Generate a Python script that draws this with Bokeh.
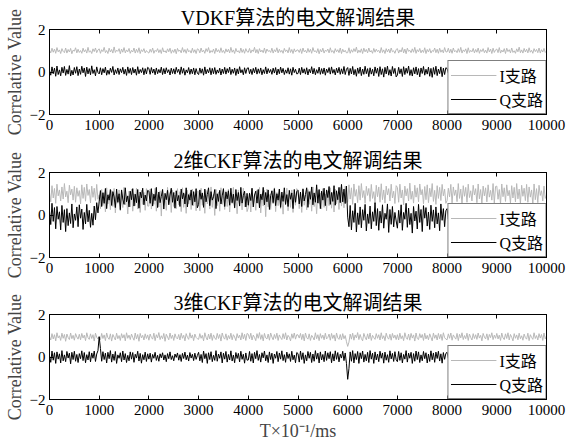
from bokeh.plotting import figure
from bokeh.layouts import column
from bokeh.models import Range1d, LinearAxis, FixedTicker, Legend, LegendItem
from bokeh.embed import file_html
from bokeh.resources import INLINE

STEP = 25  # sample spacing of the read-off values (x in units of 10^-1 ms)

x_ticks = [0, 1000, 2000, 3000, 4000, 5000, 6000, 7000, 8000, 9000, 10000]
y_ticks = [-2, 0, 2]
titles = ["VDKF算法的电文解调结果", "2维CKF算法的电文解调结果", "3维CKF算法的电文解调结果"]
legend_labels = ["I支路", "Q支路"]
y_label = "Correlative Value"
x_label = "T×10⁻¹/ms"

vdkf_i = [
    1.02, 0.90, 1.12, 0.93, 1.08, 0.88, 1.15, 0.95, 1.04, 0.87, 1.10, 0.97, 0.91, 1.13, 0.89, 1.06, 0.94, 1.11, 0.86, 1.03, 0.98, 1.14, 0.90, 1.07, 0.92, 1.01, 0.88, 1.12, 0.95, 1.05, 0.89, 1.16, 0.93, 1.00, 0.87, 1.09, 0.96, 1.13, 0.91, 1.04,
    1.09, 0.88, 1.05, 0.96, 1.16, 0.91, 1.01, 0.87, 1.12, 0.94, 1.06, 0.89, 1.18, 0.92, 1.03, 0.97, 1.10, 0.86, 1.08, 0.93, 1.15, 0.90, 1.04, 0.95, 1.11, 0.88, 1.02, 0.94, 1.13, 0.89, 1.07, 0.92, 1.14, 0.87, 1.05, 0.96, 1.10, 0.90, 1.01, 0.93,
    0.89, 1.07, 0.93, 1.13, 0.88, 1.02, 0.96, 1.10, 0.91, 1.05, 0.87, 1.14, 0.94, 1.00, 0.90, 1.09, 0.95, 1.12, 0.88, 1.04, 0.92, 1.08, 0.86, 1.11, 0.97, 1.03, 0.90, 1.15, 0.93, 1.06, 0.88, 1.10, 0.95, 1.01, 0.89, 1.12, 0.92, 1.05, 0.87, 1.09,
    1.06, 0.90, 1.13, 0.94, 1.03, 0.88, 1.10, 0.96, 1.15, 0.89, 1.01, 0.93, 1.08, 0.87, 1.12, 0.95, 1.05, 0.91, 1.14, 0.92, 1.02, 0.88, 1.09, 0.94, 1.07, 0.90, 1.16, 0.93, 1.04, 0.87, 1.11, 0.95, 1.00, 0.89, 1.13, 0.92, 1.06, 0.88, 1.10, 0.96,
    0.93, 1.11, 0.89, 1.04, 0.96, 1.16, 0.90, 1.06, 0.87, 1.10, 0.94, 1.03, 0.91, 1.13, 0.88, 1.08, 0.97, 1.01, 0.92, 1.12, 0.89, 1.05, 0.95, 1.14, 0.90, 1.07, 0.93, 1.02, 0.88, 1.11, 0.96, 1.04, 0.90, 1.15, 0.92, 1.06, 0.87, 1.09, 0.94, 1.03,
    1.04, 0.92, 1.09, 0.87, 1.13, 0.95, 1.02, 0.90, 1.11, 0.93, 1.07, 0.88, 1.15, 0.96, 1.00, 0.91, 1.10, 0.86, 1.06, 0.94, 1.12, 0.89, 1.03, 0.97, 1.08, 0.90, 1.14, 0.93, 1.01, 0.88, 1.10, 0.95, 1.05, 0.91, 1.13, 0.87, 1.07, 0.94, 1.02, 0.90,
    0.91, 1.14, 0.88, 1.05, 0.93, 1.10, 0.96, 1.17, 0.89, 1.03, 0.92, 1.09, 0.87, 1.12, 0.95, 1.06, 0.90, 1.13, 0.94, 1.01, 0.88, 1.11, 0.93, 1.07, 0.96, 1.02, 0.89, 1.15, 0.92, 1.04, 0.87, 1.10, 0.94, 1.08, 0.90, 1.13, 0.95, 1.00, 0.88, 1.06,
    1.10, 0.89, 1.04, 0.94, 1.15, 0.90, 1.08, 0.86, 1.12, 0.97, 1.02, 0.91, 1.09, 0.93, 1.16, 0.88, 1.05, 0.95, 1.11, 0.90, 1.03, 0.92, 1.14, 0.87, 1.06, 0.94, 1.10, 0.89, 1.01, 0.96, 1.13, 0.91, 1.07, 0.88, 1.12, 0.93, 1.04, 0.90, 1.15, 0.95,
    0.94, 1.12, 0.90, 1.07, 0.88, 1.13, 0.95, 1.01, 0.91, 1.10, 0.93, 1.16, 0.89, 1.04, 0.96, 1.09, 0.87, 1.14, 0.92, 1.02, 0.95, 1.11, 0.90, 1.06, 0.93, 1.13, 0.88, 1.05, 0.96, 1.10, 0.91, 1.03, 0.89, 1.15, 0.94, 1.08, 0.87, 1.12, 0.92, 1.04,
    1.08, 0.91, 1.15, 0.89, 1.03, 0.94, 1.10, 0.87, 1.12, 0.96, 1.05, 0.90, 1.13, 0.92, 1.00, 0.88, 1.09, 0.95, 1.17, 0.91, 1.04, 0.89, 1.11, 0.94, 1.07, 0.90, 1.14, 0.93, 1.02, 0.88, 1.10, 0.96, 1.06, 0.91, 1.13, 0.89, 1.05, 0.94, 1.11, 0.92,
    0.98,
]

vdkf_q = [
    0.05, -0.15, 0.24, -0.08, 0.18, -0.20, 0.28, -0.12, 0.10, -0.18, 0.22, -0.05, 0.26, -0.16, 0.12, -0.10, 0.30, -0.19, 0.08, -0.14, 0.21, -0.06, 0.25, -0.17, 0.14, -0.11, 0.27, -0.04, 0.19, -0.21, 0.23, -0.09, 0.16, -0.13, 0.29, -0.07, 0.11, -0.18, 0.24, -0.02,
    -0.09, 0.20, -0.13, 0.16, -0.04, 0.23, -0.15, 0.09, -0.11, 0.18, -0.02, 0.26, -0.14, 0.11, -0.07, 0.19, -0.12, 0.15, -0.03, 0.22, -0.10, 0.13, -0.16, 0.24, -0.06, 0.17, -0.12, 0.21, -0.05, 0.14, -0.15, 0.25, -0.08, 0.12, -0.03, 0.20, -0.13, 0.16, -0.09, 0.22,
    0.17, -0.11, 0.21, -0.05, 0.14, -0.13, 0.19, -0.08, 0.12, -0.04, 0.23, -0.12, 0.16, -0.09, 0.20, -0.03, 0.11, -0.14, 0.18, -0.07, 0.15, -0.10, 0.22, -0.02, 0.13, -0.12, 0.24, -0.06, 0.17, -0.15, 0.10, -0.04, 0.21, -0.11, 0.14, -0.08, 0.19, -0.13, 0.16, -0.05,
    -0.12, 0.19, -0.06, 0.15, -0.15, 0.24, -0.09, 0.12, -0.04, 0.20, -0.13, 0.17, -0.08, 0.21, -0.11, 0.10, -0.05, 0.18, -0.14, 0.14, -0.07, 0.22, -0.10, 0.16, -0.03, 0.23, -0.12, 0.13, -0.06, 0.19, -0.16, 0.15, -0.09, 0.25, -0.04, 0.11, -0.13, 0.20, -0.07, 0.17,
    0.20, -0.08, 0.13, -0.12, 0.17, -0.04, 0.22, -0.10, 0.15, -0.06, 0.19, -0.13, 0.11, -0.07, 0.24, -0.09, 0.16, -0.03, 0.12, -0.11, 0.18, -0.05, 0.21, -0.14, 0.14, -0.08, 0.23, -0.04, 0.17, -0.12, 0.10, -0.06, 0.20, -0.10, 0.15, -0.15, 0.22, -0.03, 0.13, -0.09,
    -0.07, 0.18, -0.12, 0.22, -0.05, 0.15, -0.10, 0.20, -0.14, 0.13, -0.04, 0.25, -0.09, 0.17, -0.13, 0.11, -0.06, 0.23, -0.11, 0.16, -0.08, 0.19, -0.15, 0.14, -0.03, 0.21, -0.10, 0.24, -0.06, 0.12, -0.14, 0.18, -0.04, 0.22, -0.11, 0.15, -0.08, 0.26, -0.12, 0.13,
    0.21, -0.16, 0.17, -0.09, 0.26, -0.13, 0.12, -0.20, 0.19, -0.07, 0.23, -0.17, 0.14, -0.11, 0.27, -0.08, 0.16, -0.22, 0.20, -0.10, 0.13, -0.18, 0.24, -0.06, 0.18, -0.21, 0.25, -0.12, 0.15, -0.24, 0.22, -0.09, 0.28, -0.15, 0.11, -0.19, 0.26, -0.07, 0.17, -0.23,
    -0.14, 0.22, -0.08, 0.15, -0.21, 0.25, -0.12, 0.18, -0.06, 0.28, -0.16, 0.11, -0.19, 0.20, -0.09, 0.24, -0.13, 0.16, -0.23, 0.19, -0.07, 0.26, -0.15, 0.13, -0.10, 0.23, -0.20, 0.17, -0.25, 0.21, -0.11, 0.27, -0.17, 0.14, -0.08, 0.24, -0.22, 0.18, -0.12, 0.20,
    0.16, -0.05, 0.21, 0.02, 0.12, -0.08, 0.24, 0.00, 0.18, -0.04, 0.14, -0.10, 0.22, 0.03, 0.17, -0.06, 0.25, -0.02, 0.13, -0.09, 0.20, 0.01, 0.15, -0.07, 0.23, -0.03, 0.19, 0.04, 0.26, -0.05, 0.14, -0.01, 0.21, -0.08, 0.17, 0.02, 0.24, -0.04, 0.12, -0.06,
    -0.03, 0.18, -0.08, 0.22, 0.00, 0.14, -0.05, 0.26, -0.10, 0.16, 0.02, 0.20, -0.06, 0.24, -0.02, 0.12, -0.09, 0.19, 0.03, 0.17, -0.04, 0.23, -0.07, 0.15, 0.01, 0.21, -0.05, 0.25, -0.01, 0.13, -0.08, 0.20, 0.02, 0.18, -0.06, 0.24, -0.03, 0.16, 0.00, 0.22,
    0.10,
]

ckf2_i = [
    1.05, 0.62, 1.38, 0.80, 1.25, 0.55, 1.45, 0.90, 1.18, 0.66, 1.32, 0.75, 1.48, 0.85, 1.12, 0.58, 1.40, 0.95, 1.22, 0.70, 1.35, 0.60, 1.28, 0.88, 1.15, 0.52, 1.42, 0.78, 1.30, 0.65, 1.46, 0.92, 1.20, 0.57, 1.36, 0.83, 1.26, 0.68, 1.44, 0.74,
    0.95, 0.30, 1.20, 0.45, 1.05, 0.15, 1.28, 0.52, 0.98, 0.25, 1.15, 0.40, 1.25, 0.10, 0.92, 0.55, 1.18, 0.20, 1.08, 0.35, 1.30, 0.48, 0.85, 0.05, 1.12, 0.38, 1.22, 0.18, 1.00, 0.44, 1.26, 0.28, 0.90, 0.12, 1.16, 0.50, 1.06, 0.22, 1.24, 0.42,
    0.42, 1.22, 0.28, 1.02, 0.50, 1.26, 0.18, 0.96, 0.38, 1.14, -0.05, 1.20, 0.45, 0.88, 0.22, 1.30, 0.55, 1.06, 0.12, 1.18, 0.40, 0.94, 0.30, 1.24, 0.48, 1.10, 0.16, 1.28, 0.36, 0.98, 0.08, 1.16, 0.52, 1.04, 0.26, 1.22, 0.44, 0.92, 0.20, 1.12,
    1.10, 0.20, 1.26, 0.46, 0.90, 0.08, 1.16, 0.52, 1.02, 0.28, 1.32, 0.36, 0.98, -0.02, 1.20, 0.44, 1.08, 0.18, 1.28, 0.50, 0.86, 0.26, 1.14, 0.40, 1.22, 0.14, 1.04, 0.54, 1.30, 0.32, 0.94, 0.06, 1.18, 0.48, 1.00, 0.24, 1.26, 0.38, 0.88, 0.16,
    0.34, 1.04, 0.14, 1.24, 0.48, 0.92, 0.22, 1.18, 0.55, 1.30, 0.10, 1.00, 0.42, 1.16, -0.08, 1.22, 0.38, 0.96, 0.26, 1.12, 0.52, 1.28, 0.16, 1.06, 0.44, 1.20, 0.30, 0.90, 0.04, 1.14, 0.50, 1.26, 0.20, 1.02, 0.36, 1.18, 0.12, 0.94, 0.46, 1.24,
    1.18, 0.30, 1.02, 0.12, 1.26, 0.46, 0.94, 0.24, 1.20, 0.50, 1.10, 0.18, 1.32, 0.40, 0.88, 0.06, 1.16, 0.54, 1.04, 0.28, 1.24, 0.36, 0.98, 0.20, 1.14, 0.44, 1.28, 0.32, 1.06, 0.14, 1.22, 0.52, 0.96, 0.26, 1.30, 0.42, 1.08, 0.34, 1.36, 0.58,
    0.62, 1.42, 0.75, 1.28, 0.50, 1.46, 0.88, 1.20, 0.58, 1.38, 0.70, 1.48, 0.82, 1.15, 0.55, 1.35, 0.92, 1.25, 0.64, 1.44, 0.78, 1.10, 0.52, 1.40, 0.86, 1.32, 0.60, 1.47, 0.72, 1.18, 0.56, 1.36, 0.94, 1.24, 0.66, 1.45, 0.80, 1.12, 0.54, 1.38,
    1.30, 0.60, 1.45, 0.80, 1.18, 0.48, 1.36, 0.90, 1.24, 0.66, 1.50, 0.74, 1.12, 0.56, 1.40, 0.84, 1.28, 0.62, 1.46, 0.95, 1.20, 0.53, 1.34, 0.72, 1.42, 0.58, 1.26, 0.86, 1.48, 0.64, 1.16, 0.50, 1.38, 0.78, 1.30, 0.68, 1.44, 0.90, 1.22, 0.55,
    0.68, 1.26, 0.85, 1.44, 0.57, 1.32, 0.92, 1.18, 0.63, 1.48, 0.78, 1.22, 0.50, 1.38, 0.88, 1.30, 0.60, 1.45, 0.82, 1.14, 0.66, 1.40, 0.94, 1.24, 0.58, 1.46, 0.76, 1.20, 0.54, 1.36, 0.90, 1.28, 0.62, 1.42, 0.84, 1.16, 0.70, 1.48, 0.56, 1.34,
    1.36, 0.74, 1.20, 0.52, 1.46, 0.86, 1.28, 0.64, 1.42, 0.90, 1.16, 0.56, 1.38, 0.80, 1.30, 0.62, 1.48, 0.76, 1.22, 0.54, 1.40, 0.88, 1.26, 0.68, 1.44, 0.60, 1.32, 0.84, 1.18, 0.50, 1.46, 0.72, 1.24, 0.58, 1.40, 0.92, 1.14, 0.66, 1.36, 0.78,
    0.95,
]

ckf2_q = [
    0.20, -0.45, 0.55, -0.30, 0.35, -0.65, 0.40, -0.20, 0.15, -0.70, 0.45, -0.35, 0.25, -0.78, 0.30, -0.50, 0.10, -0.40, 0.52, -0.60, 0.05, -0.25, 0.38, -0.55, 0.48, -0.15, 0.28, -0.68, 0.12, -0.42, 0.50, -0.32, 0.22, -0.58, 0.08, -0.48, 0.42, -0.22, 0.58, 0.10,
    0.65, 1.15, 0.40, 1.05, 0.55, 1.25, 0.30, 0.95, 0.70, 1.20, 0.45, 1.10, 0.85, 0.35, 1.22, 0.60, 1.00, 0.25, 1.18, 0.75, 0.50, 1.28, 0.62, 0.90, 0.38, 1.12, 0.72, 1.24, 0.42, 0.98, 0.58, 1.20, 0.32, 1.08, 0.80, 1.26, 0.48, 0.94, 0.66, 1.16,
    1.12, 0.55, 1.24, 0.42, 0.98, 0.68, 1.30, 0.35, 1.08, 0.58, 0.88, 1.20, 0.28, 1.02, 0.72, 1.16, 0.48, 0.94, 1.26, 0.60, 1.06, 0.32, 1.14, 0.66, 0.92, 0.40, 1.22, 0.76, 1.04, 0.52, 1.28, 0.38, 0.96, 0.70, 1.18, 0.46, 1.10, 0.62, 1.24, 0.34,
    0.50, 1.18, 0.74, 1.04, 0.36, 1.22, 0.62, 0.96, 1.28, 0.44, 1.10, 0.70, 0.86, 1.20, 0.30, 1.00, 0.64, 1.16, 0.52, 0.90, 1.24, 0.40, 1.08, 0.76, 1.14, 0.46, 1.26, 0.58, 0.98, 0.34, 1.20, 0.68, 1.06, 0.42, 1.30, 0.56, 0.92, 1.12, 0.38, 1.02,
    0.46, 1.02, 0.68, 1.26, 0.38, 0.94, 1.12, 0.56, 1.20, 0.34, 0.98, 0.72, 1.30, 0.48, 1.06, 0.62, 1.18, 0.26, 0.92, 1.14, 0.58, 1.24, 0.44, 1.00, 0.70, 1.22, 0.36, 1.08, 0.64, 1.28, 0.50, 0.96, 0.40, 1.16, 0.74, 1.04, 0.30, 1.20, 0.60, 1.10,
    1.16, 0.52, 1.08, 0.40, 1.22, 0.66, 0.96, 1.28, 0.36, 1.10, 0.74, 1.32, 0.48, 1.04, 0.60, 1.42, 0.56, 1.20, 0.30, 1.12, 0.70, 1.26, 0.44, 1.18, 0.82, 1.34, 0.50, 1.06, 0.64, 1.38, 0.46, 1.14, 0.72, 1.30, 0.58, 1.44, 0.62, 1.22, 0.54, 1.36,
    -0.10, -0.55, 0.45, -0.70, 0.20, -0.35, 0.55, -0.80, 0.10, -0.45, 0.38, -0.60, 0.25, -0.25, 0.50, -0.75, 0.05, -0.40, 0.42, -0.65, 0.15, -0.30, 0.58, -0.50, 0.30, -0.72, 0.18, -0.38, 0.48, -0.62, 0.08, -0.20, 0.52, -0.82, 0.26, -0.44, 0.40, -0.56, 0.12, -0.28,
    -0.62, 0.22, -0.38, 0.48, -0.72, 0.12, -0.20, 0.55, -0.58, 0.32, -0.45, 0.08, -0.85, 0.40, -0.28, 0.18, -0.66, 0.50, -0.35, 0.26, -0.78, 0.44, -0.15, 0.35, -0.52, 0.14, -0.68, 0.46, -0.30, 0.24, -0.60, 0.38, -0.42, 0.10, -0.74, 0.52, -0.25, 0.30, -0.55, 0.20,
    0.30, -0.20, 0.45, -0.10, 0.25, -0.30, 0.50, 0.00, 0.35, -0.25, 0.42, -0.05, 0.20, -0.15, 0.48, -0.22, 0.32, 0.02, 0.40, -0.28, 0.26, -0.08, 0.52, -0.18, 0.36, -0.12, 0.44, -0.24, 0.28, 0.04, 0.46, -0.16, 0.34, -0.06, 0.50, -0.26, 0.22, -0.02, 0.40, -0.20,
    -0.12, 0.44, -0.24, 0.28, 0.04, 0.50, -0.16, 0.34, -0.06, 0.46, -0.26, 0.22, -0.02, 0.40, -0.20, 0.54, -0.10, 0.30, 0.06, 0.44, -0.14, 0.38, -0.04, 0.48, -0.18, 0.32, 0.02, 0.42, -0.22, 0.26, -0.08, 0.50, -0.12, 0.36, 0.00, 0.46, -0.16, 0.28, -0.06, 0.40,
    0.25,
]

ckf3_i = [
    0.95, 0.80, 1.10, 0.85, 1.05, 0.76, 1.14, 0.90, 1.00, 0.78, 1.12, 0.88, 1.06, 0.74, 1.08, 0.92, 0.82, 1.13, 0.86, 1.02, 0.79, 1.10, 0.94, 0.84, 1.07, 0.81, 1.11, 0.89, 1.03, 0.77, 1.14, 0.91, 0.83, 1.09, 0.87, 1.05, 0.75, 1.12, 0.93, 0.85,
    0.98, 0.81, 1.11, 0.87, 1.04, 0.77, 1.13, 0.91, 0.83, 1.09, 0.75, 1.06, 0.93, 0.80, 1.12, 0.86, 1.01, 0.78, 1.10, 0.89, 1.05, 0.76, 1.14, 0.88, 1.03, 0.82, 1.08, 0.92, 0.79, 1.13, 0.85, 1.06, 0.74, 1.11, 0.90, 1.02, 0.80, 1.09, 0.87, 1.04,
    0.79, 1.08, 0.92, 0.84, 1.12, 0.77, 1.05, 0.90, 1.15, 0.82, 1.00, 0.86, 1.11, 0.74, 1.07, 0.94, 0.81, 1.13, 0.87, 1.03, 0.78, 1.09, 0.91, 0.85, 1.06, 0.80, 1.12, 0.88, 1.02, 0.76, 1.10, 0.93, 0.83, 1.14, 0.89, 1.04, 0.77, 1.08, 0.92, 0.86,
    0.83, 1.10, 0.88, 1.02, 0.76, 1.14, 0.93, 0.80, 1.08, 0.85, 1.12, 0.78, 1.04, 0.90, 0.82, 1.11, 0.87, 1.06, 0.75, 1.13, 0.92, 0.84, 1.09, 0.79, 1.01, 0.86, 1.12, 0.81, 1.05, 0.94, 0.77, 1.10, 0.89, 1.03, 0.80, 1.14, 0.85, 1.07, 0.78, 1.11,
    1.07, 0.86, 1.12, 0.80, 1.03, 0.92, 0.77, 1.10, 0.88, 1.15, 0.83, 1.05, 0.76, 1.11, 0.90, 0.85, 1.08, 0.79, 1.13, 0.94, 0.81, 1.06, 0.87, 1.12, 0.78, 1.04, 0.91, 0.82, 1.10, 0.86, 1.14, 0.80, 1.02, 0.93, 0.76, 1.09, 0.88, 1.13, 0.84, 1.05,
    1.04, 0.89, 1.11, 0.82, 1.07, 0.76, 1.13, 0.91, 0.84, 1.09, 0.78, 1.02, 0.93, 0.80, 1.14, 0.86, 1.05, 0.77, 1.10, 0.88, 1.03, 0.81, 1.12, 0.85, 0.92, 1.08, 0.79, 1.11, 0.87, 1.04, 0.75, 1.13, 0.90, 0.83, 1.06, 0.80, 1.10, 0.86, 1.01, 0.72,
    0.50, 0.70, 1.08, 0.84, 1.12, 0.79, 1.04, 0.90, 1.15, 0.82, 1.06, 0.87, 0.76, 1.11, 0.93, 0.81, 1.09, 0.85, 1.13, 0.78, 1.02, 0.91, 0.83, 1.10, 0.88, 1.05, 0.80, 1.14, 0.86, 1.00, 0.77, 1.12, 0.92, 0.84, 1.07, 0.79, 1.11, 0.89, 1.03, 0.82,
    1.05, 0.80, 1.12, 0.86, 1.00, 0.77, 1.14, 0.92, 0.83, 1.08, 0.79, 1.11, 0.89, 1.04, 0.75, 1.13, 0.87, 0.82, 1.10, 0.90, 1.06, 0.78, 1.12, 0.85, 1.02, 0.81, 1.09, 0.93, 0.76, 1.13, 0.88, 1.04, 0.80, 1.11, 0.86, 1.07, 0.78, 1.14, 0.91, 0.84,
    0.81, 1.09, 0.88, 1.13, 0.79, 1.04, 0.93, 0.84, 1.11, 0.77, 1.07, 0.90, 1.14, 0.82, 1.01, 0.86, 1.12, 0.78, 1.08, 0.92, 0.80, 1.10, 0.87, 1.05, 0.83, 1.13, 0.89, 1.02, 0.76, 1.11, 0.94, 0.85, 1.09, 0.79, 1.06, 0.91, 1.14, 0.82, 1.03, 0.88,
    1.11, 0.85, 1.03, 0.78, 1.13, 0.90, 0.82, 1.09, 0.87, 1.14, 0.80, 1.06, 0.93, 0.76, 1.10, 0.88, 1.04, 0.81, 1.12, 0.86, 1.00, 0.79, 1.08, 0.91, 0.84, 1.12, 0.77, 1.05, 0.92, 0.83, 1.14, 0.87, 1.01, 0.80, 1.10, 0.89, 1.06, 0.78, 1.13, 0.85,
    1.00,
]

ckf3_q = [
    0.05, -0.25, 0.28, -0.15, 0.20, -0.30, 0.24, -0.10, 0.15, -0.28, 0.30, -0.18, 0.10, -0.22, 0.26, -0.05, 0.18, -0.32, 0.22, -0.12, 0.27, -0.20, 0.12, -0.26, 0.16, -0.08, 0.29, -0.17, 0.21, -0.27, 0.11, -0.14, 0.25, -0.23, 0.19, -0.06, 0.28, -0.21, 0.14, 0.30,
    0.95, 0.40, -0.20, 0.25, -0.12, 0.18, -0.28, 0.22, -0.08, 0.30, -0.24, 0.14, -0.16, 0.26, -0.30, 0.10, -0.06, 0.20, -0.22, 0.28, -0.14, 0.16, -0.26, 0.08, -0.18, 0.24, -0.10, 0.21, -0.25, 0.13, -0.05, 0.27, -0.19, 0.17, -0.29, 0.11, -0.13, 0.23, -0.21, 0.15,
    -0.10, 0.18, -0.24, 0.12, -0.06, 0.22, -0.16, 0.08, -0.20, 0.15, -0.04, 0.20, -0.14, 0.10, -0.22, 0.16, -0.08, 0.24, -0.12, 0.06, -0.18, 0.14, -0.02, 0.19, -0.15, 0.11, -0.21, 0.17, -0.07, 0.23, -0.13, 0.09, -0.19, 0.21, -0.05, 0.13, -0.17, 0.18, -0.11, 0.07,
    0.22, -0.18, 0.12, -0.26, 0.28, -0.08, 0.16, -0.30, 0.20, -0.12, 0.25, -0.22, 0.08, -0.16, 0.30, -0.20, 0.14, -0.06, 0.24, -0.28, 0.18, -0.10, 0.26, -0.24, 0.12, -0.14, 0.29, -0.19, 0.09, -0.27, 0.21, -0.07, 0.17, -0.23, 0.27, -0.11, 0.13, -0.29, 0.19, -0.15,
    -0.14, 0.26, -0.20, 0.16, -0.28, 0.22, -0.08, 0.30, -0.16, 0.12, -0.24, 0.20, -0.04, 0.28, -0.18, 0.10, -0.26, 0.24, -0.12, 0.18, -0.30, 0.14, -0.06, 0.26, -0.22, 0.19, -0.10, 0.29, -0.17, 0.11, -0.25, 0.23, -0.07, 0.15, -0.21, 0.27, -0.13, 0.09, -0.27, 0.21,
    0.16, -0.24, 0.28, -0.12, 0.20, -0.30, 0.10, -0.18, 0.26, -0.06, 0.22, -0.26, 0.14, -0.20, 0.30, -0.10, 0.18, -0.28, 0.24, -0.14, 0.12, -0.22, 0.28, -0.16, 0.20, -0.08, 0.25, -0.27, 0.15, -0.19, 0.29, -0.11, 0.21, -0.23, 0.13, -0.05, 0.27, -0.17, 0.19, -0.30,
    -1.05, -0.55, 0.24, -0.20, 0.30, -0.28, 0.16, -0.12, 0.26, -0.30, 0.20, -0.08, 0.28, -0.24, 0.12, -0.18, 0.22, -0.26, 0.30, -0.10, 0.18, -0.30, 0.24, -0.14, 0.14, -0.22, 0.27, -0.06, 0.19, -0.29, 0.23, -0.15, 0.11, -0.25, 0.29, -0.09, 0.17, -0.21, 0.25, -0.13,
    -0.22, 0.26, -0.16, 0.20, -0.28, 0.12, -0.10, 0.30, -0.24, 0.18, -0.06, 0.22, -0.30, 0.16, -0.20, 0.28, -0.12, 0.24, -0.26, 0.10, -0.18, 0.26, -0.08, 0.20, -0.28, 0.14, -0.21, 0.29, -0.13, 0.19, -0.25, 0.23, -0.07, 0.27, -0.19, 0.15, -0.29, 0.21, -0.11, 0.17,
    0.22, -0.06, 0.28, 0.02, 0.18, -0.10, 0.26, -0.02, 0.30, 0.04, 0.14, -0.08, 0.24, 0.00, 0.20, -0.12, 0.28, 0.03, 0.16, -0.04, 0.25, -0.09, 0.30, 0.01, 0.19, -0.05, 0.27, 0.02, 0.21, -0.11, 0.29, -0.03, 0.17, 0.05, 0.23, -0.07, 0.26, 0.00, 0.20, -0.10,
    -0.05, 0.24, -0.10, 0.18, 0.02, 0.28, -0.06, 0.20, 0.04, 0.30, -0.12, 0.16, -0.02, 0.26, -0.08, 0.22, 0.00, 0.29, -0.04, 0.18, 0.03, 0.25, -0.10, 0.21, -0.01, 0.27, -0.07, 0.19, 0.05, 0.23, -0.03, 0.28, -0.09, 0.17, 0.01, 0.26, -0.05, 0.20, 0.02, 0.24,
    0.15,
]

SERIF = "'Liberation Serif', 'Noto Sans CJK SC', serif"
I_COLOR = "#b8b8b8"
Q_COLOR = "#000000"


def style_axis(ax, ticks, show_labels):
    ax.ticker = FixedTicker(ticks=ticks)
    ax.major_tick_in = 4
    ax.major_tick_out = 0
    ax.minor_tick_line_color = None
    ax.axis_line_color = "black"
    ax.major_tick_line_color = "black"
    ax.major_label_text_font = SERIF
    if show_labels:
        ax.major_label_text_color = "black"
        ax.major_label_text_font_size = "15px"
        ax.major_label_standoff = 5
    else:
        ax.major_label_text_color = None
        ax.major_label_text_font_size = "1px"
        ax.major_label_standoff = 0


def make_fig(title, i_vals, q_vals, top, bottom, with_xlabel):
    p = figure(frame_width=497, frame_height=85,
               x_range=Range1d(0, 10000), y_range=Range1d(-2, 2),
               output_backend="svg", toolbar_location=None,
               min_border_left=49, min_border_right=24,
               min_border_top=top, min_border_bottom=bottom,
               background_fill_color="white", border_fill_color="white")
    p.title.text = title
    p.title.align = "center"
    p.title.text_font = SERIF
    p.title.text_font_size = "20px"
    p.title.text_font_style = "normal"
    p.title.text_color = "black"
    p.title.standoff = 2
    p.grid.visible = False
    p.outline_line_color = "black"
    p.outline_line_alpha = 1

    style_axis(p.xaxis[0], x_ticks, True)
    style_axis(p.yaxis[0], y_ticks, True)
    p.yaxis[0].major_label_standoff = 4
    p.yaxis[0].axis_label = y_label
    p.yaxis[0].axis_label_text_font = SERIF
    p.yaxis[0].axis_label_text_font_size = "18px"
    p.yaxis[0].axis_label_text_font_style = "normal"
    p.yaxis[0].axis_label_standoff = 2
    if with_xlabel:
        p.xaxis[0].axis_label = x_label
        p.xaxis[0].axis_label_text_font = SERIF
        p.xaxis[0].axis_label_text_font_size = "18px"
        p.xaxis[0].axis_label_text_font_style = "normal"
        p.xaxis[0].axis_label_standoff = 3

    top_ax = LinearAxis()
    style_axis(top_ax, x_ticks, False)
    p.add_layout(top_ax, "above")
    right_ax = LinearAxis()
    style_axis(right_ax, y_ticks, False)
    p.add_layout(right_ax, "right")

    xs = [k * STEP for k in range(len(i_vals))]
    xq = [k * STEP for k in range(len(q_vals))]
    ri = p.line(xs, i_vals, line_color=I_COLOR, line_width=1)
    rq = p.line(xq, q_vals, line_color=Q_COLOR, line_width=1)

    legend = Legend(items=[LegendItem(label=legend_labels[0], renderers=[ri]),
                           LegendItem(label=legend_labels[1], renderers=[rq])],
                    location="bottom_right", margin=0, padding=2, spacing=-5,
                    glyph_width=46, glyph_height=16, label_height=16,
                    label_standoff=3, label_text_font=SERIF,
                    label_text_font_size="16px", label_text_color="black",
                    border_line_color="black", border_line_width=1,
                    background_fill_color="white", background_fill_alpha=1)
    p.add_layout(legend)
    return p


p1 = make_fig(titles[0], vdkf_i, vdkf_q, 29, 29, False)
p2 = make_fig(titles[1], ckf2_i, ckf2_q, 29, 29, False)
p3 = make_fig(titles[2], ckf3_i, ckf3_q, 28, 48, True)

layout = column(p1, p2, p3, spacing=0)
open("out.html", "w").write(file_html(layout, INLINE))
